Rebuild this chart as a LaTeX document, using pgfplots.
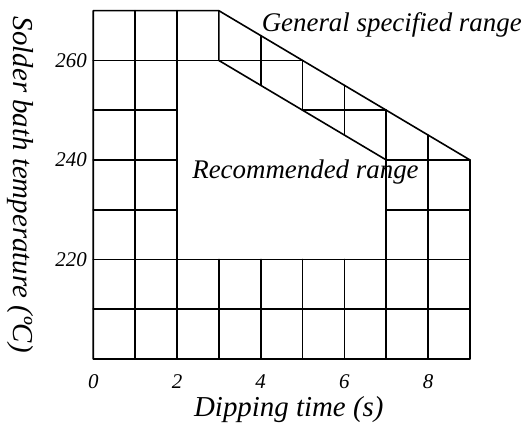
\documentclass[border=0pt]{standalone}
\usepackage{fontspec}
\setmainfont{Liberation Serif}
\usepackage{pgfplots}
\pgfplotsset{compat=1.18}
\begin{document}
\begin{tikzpicture}
\path[use as bounding box] (-93.3bp,-64bp) rectangle (430.7bp,359bp);
\begin{axis}[
  scale only axis, width=376.7bp, height=348.3bp,
  xmin=0, xmax=9, ymin=200, ymax=270,
  clip=false,
  axis line style={draw=none},
  major tick length=0pt,
  xtick={0,2,4,6,8}, ytick={220,240,260},
  /pgf/number format/assume math mode=true,
  ticklabel style={font=\fontsize{21}{24}\selectfont\itshape},
  xticklabel style={yshift=-12bp},
  yticklabel style={xshift=-3bp},
  xlabel={Dipping time (s)}, ylabel={Solder bath temperature (ºC)},
  label style={font=\fontsize{29}{32}\selectfont\itshape},
  xlabel style={at={(axis description cs:0.519,-0.146)}, anchor=center},
  ylabel style={at={(axis description cs:-0.194,0.5)}, anchor=center, rotate=180},
  seg/.style={black, line width=1.6bp, no markers, line cap=round, line join=round},
]
% outer boundary
\addplot[seg] coordinates {(0,270) (0,200) (9,200) (9,240) (3,270) (0,270)};
% verticals
\addplot[seg] coordinates {(1,200) (1,270)};
\addplot[seg] coordinates {(2,200) (2,270)};
\addplot[seg] coordinates {(3,200) (3,220)};
\addplot[seg] coordinates {(4,200) (4,220)};
\addplot[seg] coordinates {(5,200) (5,220)};
\addplot[seg] coordinates {(6,200) (6,220)};
\addplot[seg] coordinates {(7,200) (7,250)};
\addplot[seg] coordinates {(8,200) (8,245)};
% inner diagonal
\addplot[seg] coordinates {(3,270) (3,260) (7,240)};
% band verticals
\addplot[seg] coordinates {(4,255) (4,265)};
\addplot[seg] coordinates {(5,250) (5,260)};
\addplot[seg] coordinates {(6,245) (6,255)};
% horizontals
\addplot[seg] coordinates {(0,210) (9,210)};
\addplot[seg] coordinates {(0,220) (9,220)};
\addplot[seg] coordinates {(0,230) (2,230)};
\addplot[seg] coordinates {(7,230) (9,230)};
\addplot[seg] coordinates {(0,240) (2,240)};
\addplot[seg] coordinates {(7,240) (9,240)};
\addplot[seg] coordinates {(0,250) (2,250)};
\addplot[seg] coordinates {(5,250) (7,250)};
\addplot[seg] coordinates {(0,260) (5,260)};
\node[font=\fontsize{27}{30}\selectfont\itshape] at (axis cs:7.13,267.1) {General specified range};
\node[font=\fontsize{27}{30}\selectfont\itshape] at (axis cs:5.07,237.6) {Recommended range};
\end{axis}
\end{tikzpicture}
\end{document}
